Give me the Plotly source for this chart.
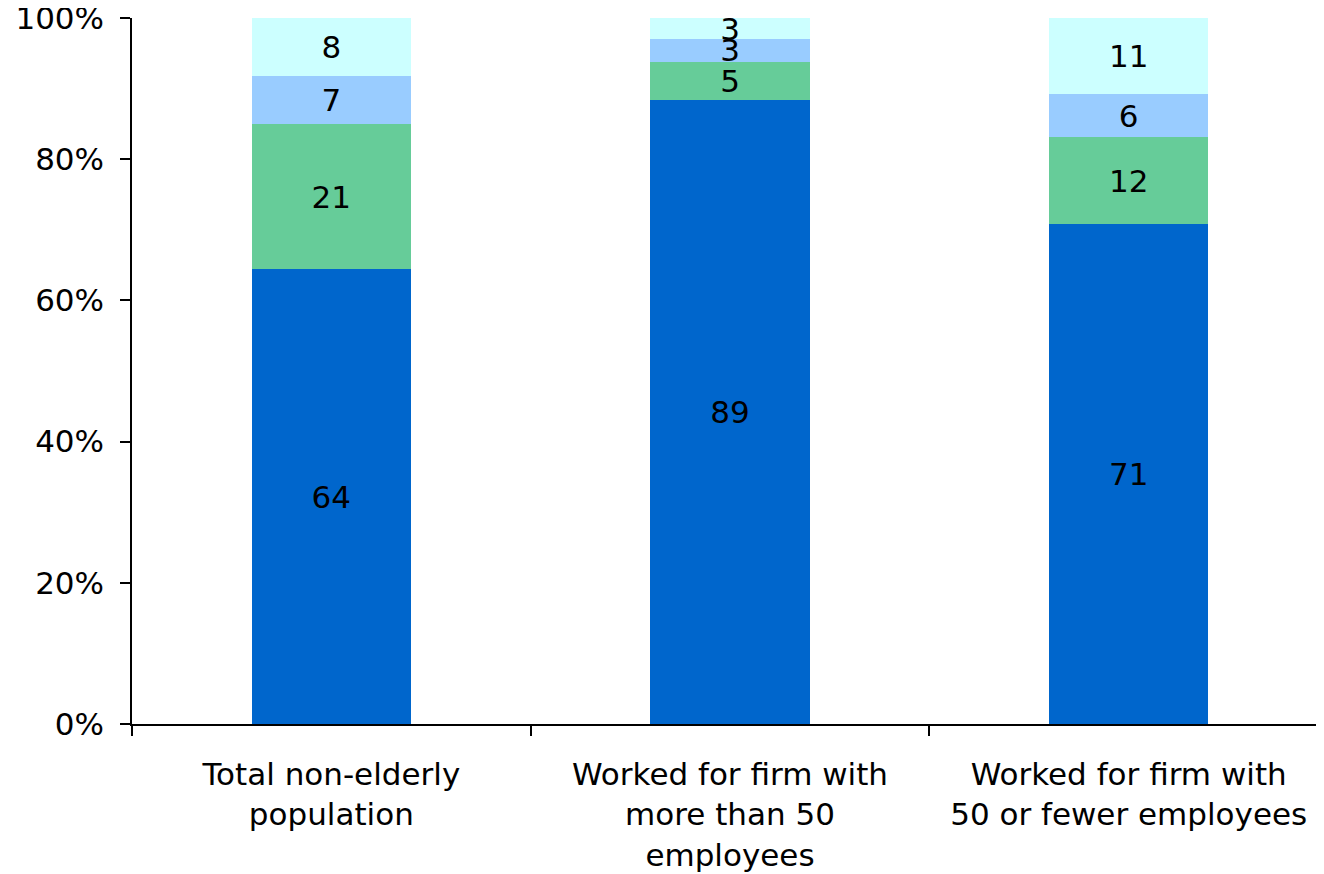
import plotly.graph_objects as go

categories = ["Total non-elderly<br>population",
              "Worked for firm with<br>more than 50<br>employees",
              "Worked for firm with<br>50 or fewer employees"]
seg1 = [64.4, 88.4, 70.8]
seg2 = [20.6, 5.4, 12.3]
seg3 = [6.8, 3.2, 6.1]
seg4 = [8.2, 3.0, 10.8]
labels1 = [64, 89, 71]
labels2 = [21, 5, 12]
labels3 = [7, 3, 6]
labels4 = [8, 3, 11]
colors = ["#0066CC", "#66CC99", "#99CCFF", "#CCFFFF"]

FONT = "DejaVu Sans"
FS = 31
fig = go.Figure()
for vals, labs, col in zip([seg1, seg2, seg3, seg4],
                           [labels1, labels2, labels3, labels4], colors):
    fig.add_trace(go.Bar(
        x=categories, y=vals, text=[str(v) for v in labs],
        textposition="inside", insidetextanchor="middle",
        constraintext="none", textangle=0,
        textfont=dict(family=FONT, size=FS, color="black"),
        marker=dict(color=col, line=dict(width=0)),
        hoverinfo="skip", showlegend=False))

fig.update_layout(
    barmode="stack", bargap=0.6,
    width=1320, height=866,
    margin=dict(l=124, r=0, t=10, b=150),
    paper_bgcolor="white", plot_bgcolor="white",
    font=dict(family=FONT, size=FS, color="black"),
    xaxis=dict(showline=True, linecolor="black", linewidth=1.5,
               ticks="outside", tickson="boundaries", ticklen=10,
               tickcolor="black", tickwidth=1.5, automargin=False,
               ticklabelstandoff=22, ticklabeloverflow="allow",
               tickfont=dict(family=FONT, size=FS, color="black")),
    yaxis=dict(range=[0, 100], tickvals=[0, 20, 40, 60, 80, 100],
               ticktext=["0%", "20%", "40%", "60%", "80%", "100%"],
               showline=True, linecolor="black", linewidth=1.5,
               ticks="outside", ticklen=10, tickcolor="black", tickwidth=1.5,
               showgrid=False, zeroline=False, automargin=False,
               ticklabelstandoff=10, ticklabeloverflow="allow",
               tickfont=dict(family=FONT, size=FS, color="black")),
)
fig.write_html("out.html")
